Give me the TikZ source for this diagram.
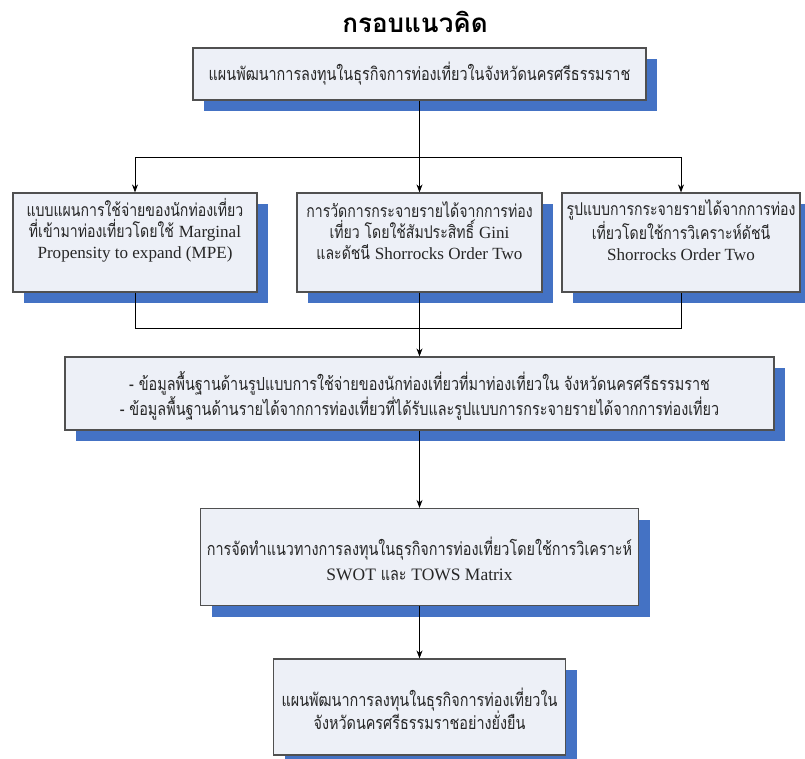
\documentclass[tikz,border=0pt]{standalone}
\usepackage{fontspec}
\setmainfont{Liberation Serif}
\newfontfamily\thai[Script=Thai,FakeStretch=0.8]{Loma}
\newfontfamily\titlefont[Script=Thai]{Loma}
\newfontfamily\enf[Scale=0.97]{Liberation Serif}
\usetikzlibrary{shadows,arrows.meta}
\definecolor{boxfill}{HTML}{EDF0F7}
\definecolor{boxline}{HTML}{505050}
\definecolor{shadowblue}{HTML}{4472C4}
\definecolor{txtcol}{HTML}{262626}
\begin{document}
\begin{tikzpicture}[x=1pt,y=-1pt,
  box/.style={draw=boxline,fill=boxfill,line width=1.2pt,inner sep=0pt,
    drop shadow={shadow xshift=11pt,shadow yshift=-11pt,fill=shadowblue,opacity=1}},
  txt/.style={align=center,text=txtcol,inner sep=0pt,font=\thai\fontsize{17.6}{21}\selectfont},
  conn/.style={draw=black,line width=0.8pt},
  arr/.style={conn,-{Stealth[length=8pt,width=6pt]}}]
\useasboundingbox (0,0) rectangle (805,758);
\clip (0,0) rectangle (805,758);

\node[font=\titlefont\bfseries\fontsize{26}{30}\selectfont,inner sep=0pt] (title) at (415,22) {กรอบแนวคิด};

\node[box,minimum width=453pt,minimum height=52pt] (b1) at (419.5,74) {};
\node[txt,font=\thai\fontsize{18}{21}\selectfont] (t1) at (b1.center) {แผนพัฒนาการลงทุนในธุรกิจการท่องเที่ยวในจังหวัดนครศรีธรรมราช};

\node[box,minimum width=244pt,minimum height=99pt] (b2) at (135,242.5) {};
\node[txt] (t2) at ([yshift=12pt]b2.center) {แบบแผนการใช้จ่ายของนักท่องเที่ยว\\ที่เข้ามาท่องเที่ยวโดยใช้ {\enf Marginal}\\{\enf Propensity to expand (MPE)}};

\node[box,minimum width=245pt,minimum height=99pt] (b3) at (419.5,242.5) {};
\node[txt] (t3) at ([yshift=12pt]b3.center) {การวัดการกระจายรายได้จากการท่อง\\เที่ยว โดยใช้สัมประสิทธิ์ {\enf Gini}\\และดัชนี {\enf Shorrocks Order Two}};

\node[box,minimum width=238pt,minimum height=99pt] (b4) at (681,242.5) {};
\node[txt] (t4) at ([yshift=12pt]b4.center) {รูปแบบการกระจายรายได้จากการท่อง\\เที่ยวโดยใช้การวิเคราะห์ดัชนี\\{\enf Shorrocks Order Two}};

\node[box,minimum width=709pt,minimum height=73pt] (b5) at (419.5,393.5) {};
\node[txt,font=\thai\fontsize{18}{25}\selectfont] (t5) at ([yshift=-2pt]b5.center) {- ข้อมูลพื้นฐานด้านรูปแบบการใช้จ่ายของนักท่องเที่ยวที่มาท่องเที่ยวใน จังหวัดนครศรีธรรมราช\\- ข้อมูลพื้นฐานด้านรายได้จากการท่องเที่ยวที่ได้รับและรูปแบบการกระจายรายได้จากการท่องเที่ยว};

\node[box,minimum width=438pt,minimum height=97pt] (b6) at (419.5,557) {};
\node[txt,font=\thai\fontsize{18}{25}\selectfont] (t6) at ([yshift=-2pt]b6.center) {การจัดทำแนวทางการลงทุนในธุรกิจการท่องเที่ยวโดยใช้การวิเคราะห์\\{\enf SWOT} และ {\enf TOWS Matrix}};

\node[box,minimum width=292pt,minimum height=96pt] (b7) at (419.5,707) {};
\node[txt,font=\thai\fontsize{18}{23.5}\selectfont] (t7) at ([yshift=-2pt]b7.center) {แผนพัฒนาการลงทุนในธุรกิจการท่องเที่ยวใน\\จังหวัดนครศรีธรรมราชอย่างยั่งยืน};

\coordinate (lev1) at (0,157);
\coordinate (lev2) at (0,328);
\draw[conn] (b1.south) -- (b1.south |- lev1);
\draw[conn] (b2.north |- lev1) -- (b4.north |- lev1);
\draw[arr] (b2.north |- lev1) -- (b2.north);
\draw[arr] (b3.north |- lev1) -- (b3.north);
\draw[arr] (b4.north |- lev1) -- (b4.north);
\draw[conn] (b2.south) -- (b2.south |- lev2) -- (b4.south |- lev2) -- (b4.south);
\draw[conn] (b3.south) -- (b3.south |- lev2);
\draw[arr] (b5.north |- lev2) -- (b5.north);
\draw[arr] (b5.south) -- (b6.north);
\draw[arr] (b6.south) -- (b7.north);
\end{tikzpicture}
\end{document}
